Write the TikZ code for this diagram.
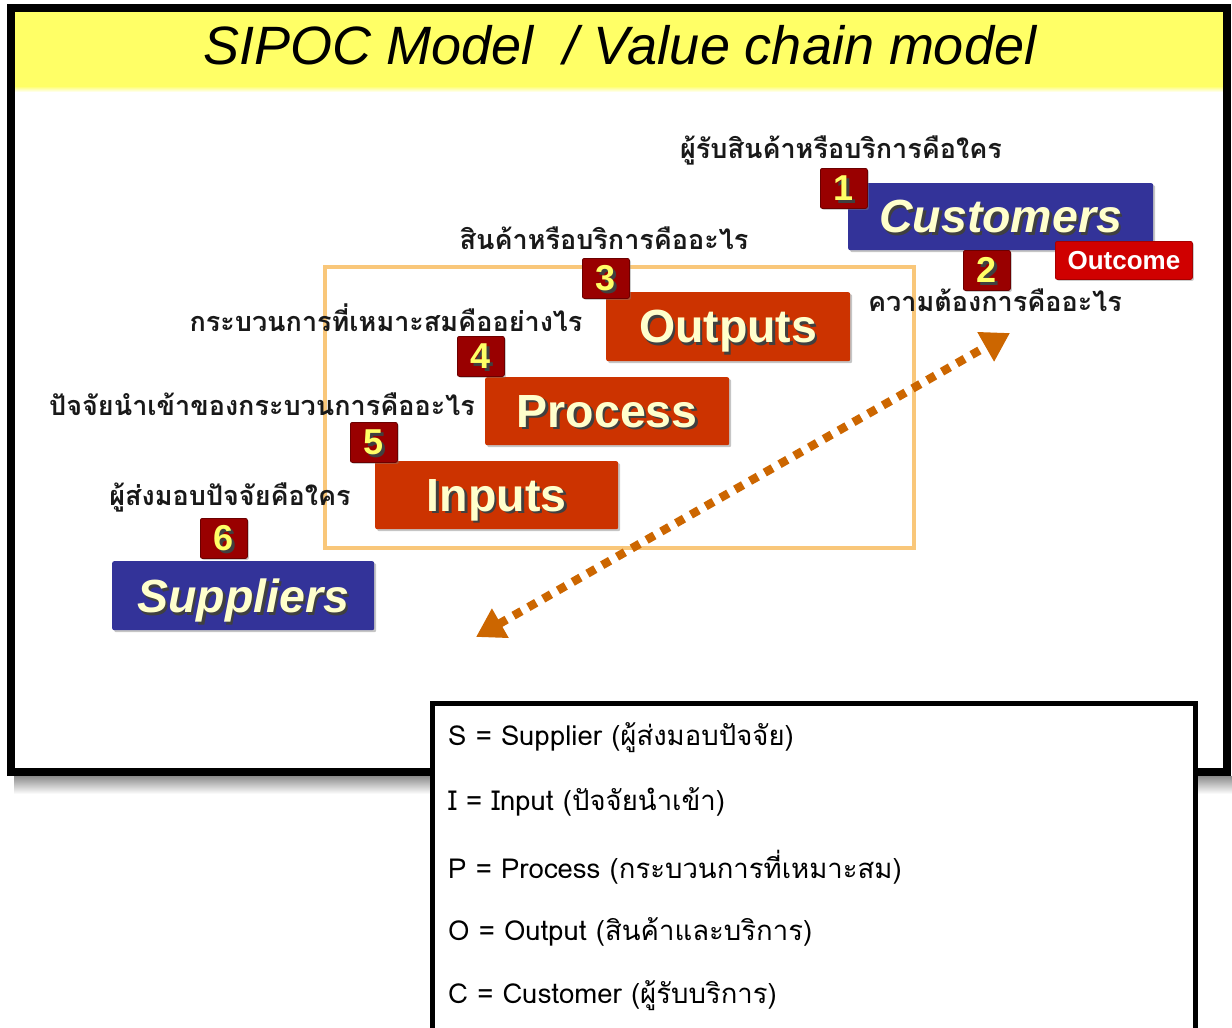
\documentclass[tikz,border=0pt]{standalone}
\usepackage{fontspec}
\setmainfont{Liberation Sans}
\newfontfamily\thaifont[Script=Thai]{Loma}
\usetikzlibrary{arrows.meta,shadows}
\definecolor{slideyellow}{HTML}{FFFF66}
\definecolor{boxblue}{HTML}{333399}
\definecolor{boxorange}{HTML}{CC3300}
\definecolor{numred}{HTML}{990000}
\definecolor{numyellow}{HTML}{FFFF66}
\definecolor{cream}{HTML}{FFFFCC}
\definecolor{outred}{HTML}{D00000}
\definecolor{framebeige}{HTML}{F9C77A}
\definecolor{arrowbrown}{HTML}{CC6600}
\newcommand{\shtext}[1]{\leavevmode\rlap{\kern2.5pt\raisebox{-2.5pt}{\color{black!75}#1}}#1}
\tikzset{
  mainbox/.style={anchor=north west, rounded corners=2pt, inner sep=0pt, text depth=0pt,
     text=cream, font=\fontsize{46.5}{50}\selectfont\bfseries,
     drop shadow={shadow xshift=2pt, shadow yshift=-2pt, opacity=0.45}},
  bluebox/.style={mainbox, fill=boxblue, font=\fontsize{46.5}{50}\selectfont\bfseries\itshape},
  redbox/.style={mainbox, fill=boxorange},
  numbox/.style={anchor=north west, rounded corners=2pt, inner sep=0pt, fill=numred,
     draw=numred!70!black, line width=0.8pt, text depth=0pt,
     minimum width=47pt, minimum height=40pt, text=numyellow,
     font=\fontsize{36}{38}\selectfont\bfseries,
     drop shadow={shadow xshift=1.5pt, shadow yshift=-1.5pt, opacity=0.4}},
  qlabel/.style={inner sep=0pt, font=\thaifont\fontsize{27}{30}\selectfont\bfseries, text=black!90},
  legline/.style={anchor=west, inner sep=0pt, font=\thaifont\fontsize{27.5}{32}\selectfont},
}
\begin{document}
\begin{tikzpicture}[x=1pt,y=-1pt]
\useasboundingbox (0,0) rectangle (1232,1028);
% slide shadow and frame
\shade[top color=black!45, bottom color=white] (14,776) rectangle (1232,794);
\fill[white] (11,8) rectangle (1228,772);
\fill[slideyellow] (15,12) rectangle (1223,88);
\shade[top color=slideyellow, bottom color=white] (15,86) rectangle (1223,92);
\node[inner sep=0pt, font=\fontsize{54}{58}\selectfont\itshape] (title) at (620,45) {SIPOC Model\ \ / Value chain model};
\draw[line width=8pt] (11,8) rectangle (1227,772);

% orange frame
\node[draw=framebeige, line width=4pt, anchor=north west, minimum width=589pt, minimum height=281pt, inner sep=0pt] (frame) at (323,265) {};

% labels
\node[qlabel] (lab1) at (841,150) {ผู้รับสินค้าหรือบริการคือใคร};
\node[qlabel] (lab2) at (995,300) {ความต้องการคืออะไร};
\node[qlabel] (lab3) at (604,238) {สินค้าหรือบริการคืออะไร};
\node[qlabel] (lab4) at (386,318) {กระบวนการที่เหมาะสมคืออย่างไร};
\node[qlabel] (lab5) at (262,404) {ปัจจัยนำเข้าของกระบวนการคืออะไร};
\node[qlabel] (lab6) at (230,497) {ผู้ส่งมอบปัจจัยคือใคร};

% main boxes
\node[bluebox, minimum width=305pt, minimum height=67pt] (cust) at (848,183) {\shtext{Customers}};
\node[redbox, minimum width=244pt, minimum height=69pt] (outp) at (606,292) {\shtext{Outputs}};
\node[redbox, minimum width=244pt, minimum height=68pt] (proc) at (485,377) {\shtext{Process}};
\node[redbox, minimum width=243pt, minimum height=68pt] (inp) at (375,461) {\shtext{Inputs}};
\node[bluebox, minimum width=262pt, minimum height=69pt] (sup) at (112,561) {\shtext{Suppliers}};
\node[anchor=north west, rounded corners=2pt, fill=outred, draw=outred!80!black, line width=0.8pt,
      minimum width=137pt, minimum height=38pt, inner sep=0pt, text=white, text depth=0pt,
      font=\fontsize{26}{28}\selectfont\bfseries,
      drop shadow={shadow xshift=1.5pt, shadow yshift=-1.5pt, opacity=0.4}] (outc) at (1055,241) {Outcome};

% number boxes
\node[numbox] (n1) at (820,168) {\shtext{1}};
\node[numbox] (n2) at (963,250) {\shtext{2}};
\node[numbox] (n3) at (582,258) {\shtext{3}};
\node[numbox] (n4) at (457,336) {\shtext{4}};
\node[numbox] (n5) at (350,422) {\shtext{5}};
\node[numbox] (n6) at (200,518) {\shtext{6}};

% dotted double arrow
\coordinate (aLow) at (476,637);
\coordinate (aHigh) at (1010,333);
\draw[arrowbrown, line width=8.5pt, dash pattern=on 9pt off 8pt,
      {Triangle[length=28pt,width=32pt]}-{Triangle[length=28pt,width=32pt]}] (aLow) -- (aHigh);

% legend
\node[draw, fill=white, line width=5pt, anchor=north west, minimum width=763pt, minimum height=400pt, inner sep=0pt] (legend) at (429.5,700.5) {};
\node[legline] (l1) at (448,738) {S = Supplier (ผู้ส่งมอบปัจจัย)};
\node[legline] (l2) at (448,802) {I = Input (ปัจจัยนำเข้า)};
\node[legline] (l3) at (448,867) {P = Process (กระบวนการที่เหมาะสม)};
\node[legline] (l4) at (448,932) {O = Output (สินค้าและบริการ)};
\node[legline] (l5) at (448,996) {C = Customer (ผู้รับบริการ)};
\end{tikzpicture}
\end{document}
